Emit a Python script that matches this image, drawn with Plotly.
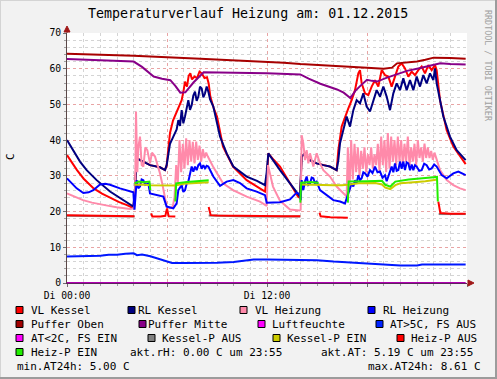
import plotly.graph_objects as go

# ---------------- data (hours since 00:00, degrees C) ----------------
VL_KESSEL = [(0.0, 35.8), (0.3, 33.5), (0.6, 31.6), (1.0, 29.2), (1.6, 26.5), (2.1, 25.0), (2.6, 23.8), (3.1, 22.7), (3.6, 21.8), (3.98, 21.0),
    (4.08, 26.0), (4.18, 34.9), (4.58, 34.0), (4.98, 33.0), (5.58, 32.4), (5.88, 31.6), (5.98, 33.0), (6.08, 37.5), (6.18, 42.0), (6.36, 45.5),
    (6.6, 48.0), (6.88, 51.2), (7.0, 54.0), (7.08, 56.4), (7.2, 55.0), (7.3, 58.0), (7.4, 58.7), (7.5, 57.0), (7.65, 57.8), (7.8, 57.4),
    (7.95, 59.2), (8.1, 58.6), (8.25, 57.4), (8.4, 57.6), (8.5, 55.9), (8.6, 52.2), (8.8, 49.0), (9.0, 46.6), (9.36, 38.2), (9.96, 32.6),
    (10.78, 28.8), (11.4, 27.0), (11.88, 25.6), (12.0, 30.0), (12.08, 36.3), (12.4, 34.5), (12.78, 32.6), (13.38, 27.9), (13.86, 24.2), (13.98, 23.8),
    (14.08, 35.4), (14.28, 36.3), (14.58, 34.4), (14.98, 33.5), (15.38, 33.0), (15.78, 32.6), (16.18, 31.6), (16.28, 37.2), (16.48, 43.8), (16.68, 46.6),
    (16.88, 48.9), (17.08, 51.2), (17.28, 54.0), (17.48, 58.7), (17.58, 59.6), (17.68, 55.9), (17.88, 53.1), (18.08, 52.6), (18.28, 55.0), (18.48, 56.8),
    (18.68, 55.0), (18.88, 59.6), (19.08, 58.2), (19.28, 57.8), (19.48, 55.0), (19.68, 57.8), (19.88, 60.6), (20.08, 61.5), (20.28, 60.1), (20.48, 57.8),
    (20.68, 59.2), (20.88, 58.2), (21.08, 59.6), (21.28, 60.6), (21.48, 58.7), (21.68, 61.0), (21.88, 59.6), (22.08, 61.0), (22.18, 59.6), (22.38, 51.2),
    (22.78, 42.8), (23.18, 38.2), (23.58, 35.4), (23.92, 33.3)]

RL_KESSEL = [(0.0, 40.0), (0.38, 37.2), (0.78, 34.0), (1.18, 31.6), (1.78, 28.8), (2.58, 25.6), (3.38, 23.2), (3.98, 21.4),
    (4.08, 26.0), (4.18, 34.9), (4.58, 34.0), (4.98, 33.0), (5.58, 32.4), (5.88, 31.6), (5.98, 33.0), (6.08, 36.0), (6.18, 39.0), (6.38, 41.0),
    (6.58, 43.0), (6.68, 45.6), (6.78, 44.0), (6.88, 48.4), (6.98, 44.7), (7.08, 46.6), (7.18, 49.0), (7.28, 51.2), (7.38, 48.5), (7.48, 49.8),
    (7.58, 52.5), (7.68, 53.6), (7.78, 51.0), (7.88, 52.2), (7.98, 55.0), (8.08, 54.5), (8.18, 52.0), (8.28, 53.1), (8.38, 55.0), (8.48, 53.6),
    (8.58, 51.5), (8.78, 49.4), (9.18, 41.0), (9.58, 36.3), (9.98, 32.6), (10.78, 29.8), (11.4, 28.6), (11.88, 27.4), (11.98, 31.0), (12.08, 36.3),
    (12.78, 31.6), (13.38, 27.9), (13.98, 24.2),
    (14.08, 35.4), (14.28, 36.3), (14.58, 34.4), (14.98, 33.5), (15.38, 33.0), (15.78, 32.6), (16.18, 31.6), (16.28, 34.4), (16.38, 39.1), (16.58, 42.8),
    (16.78, 46.6), (16.98, 43.8), (17.18, 48.4), (17.38, 51.2), (17.58, 50.3), (17.78, 53.1), (17.98, 49.4), (18.18, 48.0), (18.38, 51.2), (18.58, 54.0),
    (18.78, 52.2), (18.98, 55.0), (19.18, 52.2), (19.38, 48.4), (19.58, 53.1), (19.78, 55.9), (19.98, 54.0), (20.18, 57.3), (20.38, 54.0), (20.58, 56.8),
    (20.78, 54.0), (20.98, 57.8), (21.18, 55.0), (21.38, 58.2), (21.58, 55.9), (21.78, 58.7), (21.98, 56.8), (22.08, 60.1), (22.18, 55.9), (22.58, 46.6),
    (22.98, 41.0), (23.38, 37.2), (23.92, 34.4)]

VL_HEIZUNG = [(0.0, 25.1), (0.5, 24.0), (0.96, 23.2), (1.5, 22.5), (1.98, 22.0), (2.5, 21.6), (2.98, 21.2), (3.4, 21.0), (3.78, 20.7), (3.98, 20.9),
    (4.08, 22.0), (4.14, 48.0), (4.22, 31.0), (4.28, 38.0), (4.38, 41.0), (4.48, 33.0), (4.58, 32.6), (4.7, 38.0), (4.82, 37.2), (4.98, 33.5),
    (5.1, 36.5), (5.28, 35.4), (5.45, 33.0), (5.58, 30.7), (5.75, 27.0), (5.88, 24.2), (5.98, 21.4), (6.18, 21.0), (6.35, 21.5),
    (6.45, 24.0), (6.55, 33.0), (6.65, 28.0), (6.75, 40.0), (6.85, 31.0), (6.95, 39.0), (7.05, 32.0), (7.15, 40.5), (7.25, 33.0), (7.35, 40.0),
    (7.45, 34.0), (7.55, 39.5), (7.65, 33.5), (7.75, 39.6), (7.85, 34.5), (7.95, 38.5), (8.05, 34.0), (8.15, 37.5), (8.25, 35.0), (8.35, 36.5), (8.45, 35.4),
    (8.76, 32.6), (9.36, 27.9), (9.96, 26.0), (10.78, 24.2), (11.58, 22.8), (11.98, 21.6), (12.06, 33.0), (12.36, 27.0), (12.78, 23.0), (13.38, 20.6), (13.95, 20.3),
    (14.02, 20.5), (14.08, 41.4), (14.18, 39.1), (14.28, 34.4), (14.38, 37.2), (14.48, 33.5), (14.58, 36.3), (14.78, 32.6), (14.98, 36.3), (15.18, 33.5),
    (15.38, 31.6), (15.78, 29.8), (16.18, 27.0), (16.58, 25.1), (16.78, 24.2),
    (16.85, 38), (16.95, 26), (17.05, 40), (17.15, 29), (17.25, 39), (17.35, 31), (17.45, 38), (17.55, 30), (17.65, 37), (17.75, 32),
    (17.85, 38), (17.95, 31), (18.05, 36), (18.15, 33), (18.25, 38), (18.35, 32), (18.45, 36), (18.55, 33), (18.65, 39), (18.75, 31),
    (18.85, 41), (18.95, 33), (19.05, 40), (19.15, 31), (19.25, 42), (19.35, 32), (19.45, 41), (19.55, 34), (19.65, 40), (19.75, 33),
    (19.85, 41), (19.95, 34), (20.05, 40), (20.15, 33), (20.25, 39), (20.35, 34), (20.45, 41), (20.55, 33), (20.65, 38), (20.75, 34),
    (20.85, 39), (20.95, 33), (21.05, 40), (21.15, 35), (21.25, 38), (21.35, 34), (21.45, 39), (21.55, 35), (21.65, 38), (21.75, 35),
    (21.85, 37), (21.95, 34.5), (22.05, 36.5), (22.15, 35),
    (22.38, 31.6), (22.78, 28.8), (23.18, 27.4), (23.58, 26.5), (23.92, 26.0)]

RL_HEIZUNG = [(0.0, 29.3), (0.3, 27.8), (0.58, 26.5), (0.98, 25.2), (1.3, 25.4), (1.58, 26.0), (1.98, 27.6), (2.3, 27.8), (2.58, 27.5), (3.18, 26.5),
    (3.78, 25.6), (3.98, 25.4), (4.05, 20.5), (4.12, 26.0), (4.18, 28.8), (4.28, 26.5), (4.38, 27.0), (4.48, 29.0), (4.58, 28.8), (4.7, 27.5),
    (4.88, 27.9), (4.98, 25.1), (5.38, 24.6), (5.78, 24.2), (5.98, 21.4), (6.38, 20.9), (6.58, 22.3), (6.68, 26.0), (6.88, 27.4), (6.98, 25.5),
    (7.08, 26.0), (7.18, 27.8), (7.28, 28.4), (7.38, 30.7), (7.48, 32.6), (7.58, 31.2), (7.68, 32.6), (7.78, 31.6), (7.88, 33.0), (7.98, 33.5),
    (8.08, 32.0), (8.18, 33.0), (8.28, 32.1), (8.38, 32.8), (8.48, 32.6), (8.78, 29.8), (9.18, 27.2), (9.58, 28.4), (9.98, 28.8), (10.38, 28.0),
    (10.78, 26.5), (11.38, 25.6), (11.88, 24.6), (11.98, 22.5), (12.78, 22.6), (13.38, 23.4), (13.78, 25.3), (13.98, 24.8),
    (14.02, 23.2), (14.08, 28.8), (14.18, 26.0), (14.28, 28.5), (14.38, 29.8), (14.48, 27.5), (14.58, 27.9), (14.68, 29.5), (14.78, 29.3), (14.88, 28.0),
    (14.98, 28.4), (15.18, 26.0), (15.58, 24.6), (15.98, 23.2), (16.38, 22.8), (16.68, 22.3), (16.88, 25.1), (17.08, 27.9), (17.18, 27.0), (17.28, 28.8),
    (17.38, 28.0), (17.48, 30.2), (17.58, 28.8), (17.68, 29.3), (17.78, 31.0), (17.88, 30.7), (18.03, 29.8), (18.18, 31.6), (18.33, 30.8), (18.48, 32.6),
    (18.63, 31.0), (18.78, 31.2), (18.93, 29.5), (19.08, 30.2), (19.18, 28.5), (19.28, 29.8), (19.38, 31.5), (19.48, 32.6), (19.58, 31.0), (19.68, 33.5),
    (19.78, 31.4), (19.88, 31.6), (19.98, 34.0), (20.08, 32.0), (20.18, 34.0), (20.28, 31.6), (20.38, 33.8), (20.48, 33.5), (20.58, 31.6), (20.68, 33.2),
    (20.78, 31.6), (20.88, 33.0), (20.98, 32.6), (21.13, 31.4), (21.28, 31.6), (21.43, 33.4), (21.58, 33.0), (21.73, 31.8), (21.88, 32.1), (22.03, 33.2),
    (22.18, 32.6), (22.48, 30.2), (22.78, 29.3), (23.18, 30.7), (23.48, 31.2), (23.92, 30.2)]

PUFFER_OBEN = [(0, 64.2), (1, 64.1), (2, 63.9), (3, 63.8), (4, 63.6), (5, 63.4), (6, 63.3), (7, 63.0), (8, 62.8), (9, 62.6),
    (10, 62.4), (11, 62.2), (12, 62.0), (13, 61.7), (14, 61.3), (15, 61.1), (16, 60.9), (17, 60.6), (18, 60.3), (19, 60.0),
    (19.5, 60.3), (19.8, 61.5), (20.5, 61.7), (21.0, 62.0), (21.5, 62.5), (22.0, 63.1), (23.0, 63.0), (23.92, 62.8)]

PUFFER_MITTE = [(0, 62.7), (1, 62.5), (2, 62.4), (3, 62.2), (4, 62.0), (4.5, 60.5), (5.2, 57.8), (5.7, 57.2), (6.2, 56.8), (6.5, 55.2),
    (6.8, 53.3), (7.1, 53.4), (7.6, 56.2), (8.2, 59.0), (9.0, 59.0), (9.8, 58.9), (11, 58.8), (12, 58.7), (13, 58.6), (14, 58.4),
    (14.5, 57.2), (15.2, 55.8), (16.2, 54.2), (16.6, 53.3), (17.0, 51.8), (17.3, 53.8), (17.6, 55.2), (18.0, 56.9), (18.3, 56.6), (18.6, 56.4),
    (19.2, 57.5), (19.8, 58.4), (20.4, 59.4), (21.0, 60.0), (21.7, 60.7), (22.4, 61.5), (23.0, 61.3), (23.92, 61.2)]

LUFTFEUCHTE = [(0.0, 0.0), (23.92, 0.0)]

AT_WARM = [(0, 7.4), (1, 7.4), (2, 7.6), (2.5, 7.9), (3, 7.9), (3.5, 8.2), (4.0, 8.3), (4.2, 7.8), (4.5, 8.0), (5.0, 7.5),
    (5.5, 6.8), (6.0, 6.0), (6.3, 5.6), (7, 5.6), (8, 5.6), (9, 5.7), (10, 5.9), (10.6, 6.2), (11.2, 6.6), (12, 6.6),
    (13, 6.6), (14, 6.6), (15, 6.4), (16, 6.0), (17, 5.7), (18, 5.4), (19, 5.2), (20, 4.9), (21, 4.9), (21.3, 5.2),
    (22, 5.2), (23, 5.1), (23.92, 5.2)]

KESSEL_P_AUS = [(0, 18.8), (2, 18.7), (4.05, 18.6), (4.06, None), (8.5, 18.9), (11, 18.6), (14.0, 18.6), (14.01, None),
    (22.3, 19.3), (23.92, 19.3)]

KESSEL_P_EIN = [(4.05, 27.5), (4.5, 27.6), (5.0, 27.4), (5.5, 27.3), (6.0, 27.2), (6.5, 27.3), (7.0, 27.8), (7.5, 28.0), (8.0, 28.1), (8.5, 28.2),
    (8.51, None), (14.0, 27.6), (14.5, 27.5), (15.0, 27.5), (15.5, 27.4), (16.0, 27.4), (16.5, 27.4), (16.85, 27.5), (17.5, 27.9), (18.5, 28.0),
    (18.9, 27.6), (19.1, 26.7), (19.4, 26.3), (19.7, 27.4), (20.0, 27.9), (20.5, 28.2), (21.0, 28.3), (21.5, 28.5), (22.0, 28.8), (22.25, 29.0)]

HEIZ_P_AUS = [(0, 19.0), (1, 18.9), (2, 18.8), (3, 18.7), (4.05, 18.7), (4.06, None),
    (5.05, 19.5), (5.12, 18.6), (5.6, 18.6), (5.9, 18.8), (6.0, 20.9), (6.1, 18.7), (6.5, 18.6), (6.51, None),
    (8.5, 21.3), (8.62, 19.0), (9.0, 18.9), (10, 18.8), (11, 18.7), (12, 18.6), (13, 18.7), (14.0, 18.7), (14.01, None),
    (15.15, 19.7), (15.22, 18.7), (15.8, 18.4), (16.4, 18.3), (16.85, 18.3), (16.86, None),
    (22.28, 22.8), (22.4, 19.6), (23.0, 19.4), (23.92, 19.4)]

HEIZ_P_EIN = [(4.05, 27.9), (4.3, 28.4), (4.6, 28.2), (4.95, 28.4), (5.0, 26.0), (5.01, None),
    (6.5, 22.8), (6.55, 27.9), (7.2, 28.3), (7.8, 28.5), (8.5, 28.8), (8.51, None),
    (14.0, 22.5), (14.05, 28.1), (14.6, 28.3), (15.1, 28.1), (15.11, None),
    (16.85, 22.5), (16.9, 28.4), (18.0, 28.5), (18.9, 28.6), (19.1, 27.5), (19.4, 27.0), (19.7, 28.4), (20.5, 29.0), (21.5, 29.4),
    (22.2, 29.7), (22.25, 22.8)]

# draw order follows the legend order (later series on top)
SERIES = [
    ("VL Kessel", VL_KESSEL, "#FF0000", 2),
    ("RL Kessel", RL_KESSEL, "#000080", 2),
    ("VL Heizung", VL_HEIZUNG, "#FF8AAA", 2),
    ("RL Heizung", RL_HEIZUNG, "#0000FF", 2),
    ("Puffer Oben", PUFFER_OBEN, "#A80000", 2),
    ("Puffer Mitte", PUFFER_MITTE, "#880088", 2),
    ("Luftfeuchte", LUFTFEUCHTE, "#B000B0", 2),
    ("AT>5C, FS AUS", AT_WARM, "#0018FF", 2),
    ("Kessel-P AUS", KESSEL_P_AUS, "#808080", 2),
    ("Kessel-P EIN", KESSEL_P_EIN, "#CCCC00", 2),
    ("Heiz-P AUS", HEIZ_P_AUS, "#FF0000", 2),
    ("Heiz-P EIN", HEIZ_P_EIN, "#22EE00", 2),
]

LEGEND_ITEMS = [  # label, colour, swatch-x px, text-x px, row-y px
    ("VL Kessel", "#FF0000", 16, 30, 310), ("RL Kessel", "#000080", 128, 137, 310),
    ("VL Heizung", "#FF8AAA", 240, 254, 310), ("RL Heizung", "#0000FF", 368, 382, 310),
    ("Puffer Oben", "#A00000", 16, 30, 324), ("Puffer Mitte", "#880088", 139, 147, 324),
    ("Luftfeuchte", "#FF00FF", 258, 271, 324), ("AT>5C, FS AUS", "#0022FF", 376, 389, 324),
    ("AT<2C, FS EIN", "#FF00FF", 16, 30, 338), ("Kessel-P AUS", "#808080", 148, 161, 338),
    ("Kessel-P EIN", "#CCCC00", 273, 286, 338), ("Heiz-P AUS", "#FF0000", 397, 410, 338),
    ("Heiz-P EIN", "#22EE00", 16, 30, 352),
]
LEGEND_TEXTS = [  # text, x px, y px, anchor
    ("akt.rH: 0.00 C um 23:55", 129, 352, "left"),
    ("akt.AT: 5.19 C um 23:55", 320, 352, "left"),
    ("min.AT24h: 5.00 C", 16, 366, "left"),
    ("max.AT24h: 8.61 C", 482, 366, "right"),
]

TITLE = "Temperaturverlauf Heizung am: 01.12.2015"
X_TICKVALS = [0, 6, 12, 18, 24]
X_TICKTEXT = ["Di 00:00", "", "Di 12:00", "", ""]

# ---------------- geometry helpers (pixel -> paper) ----------------
W, H = 497, 379
L, R, T, B = 67, 30, 33, 96
PW, PH = W - L - R, H - T - B


def px(x):
    return (x - L) / PW


def py(y):
    return (H - B - y) / PH


MONO = "DejaVu Sans Mono"

fig = go.Figure()
for name, pts, col, lw in SERIES:
    xs = [p[0] for p in pts]
    ys = [p[1] for p in pts]
    fig.add_trace(go.Scatter(x=xs, y=ys, mode="lines", name=name, showlegend=False,
                             connectgaps=False, hoverinfo="skip",
                             line=dict(color=col, width=lw)))

shapes = []
annotations = []

# legend swatches and labels
for label, col, sx, tx, ry in LEGEND_ITEMS:
    shapes.append(dict(type="rect", xref="paper", yref="paper",
                       x0=px(sx), x1=px(sx + 7), y0=py(ry + 3.5), y1=py(ry - 3.5),
                       fillcolor=col, line=dict(color="#000000", width=1)))
    annotations.append(dict(text=label, xref="paper", yref="paper", x=px(tx), y=py(ry),
                            xanchor="left", yanchor="middle", showarrow=False, borderpad=0,
                            font=dict(family=MONO, size=11, color="#000000")))
for txt, tx, ry, anc in LEGEND_TEXTS:
    annotations.append(dict(text=txt, xref="paper", yref="paper", x=px(tx), y=py(ry),
                            xanchor=anc, yanchor="middle", showarrow=False, borderpad=0,
                            font=dict(family=MONO, size=11, color="#000000")))

# title, y label, watermark
annotations.append(dict(text=TITLE, xref="paper", yref="paper", x=px(248), y=py(14),
                        xanchor="center", yanchor="middle", showarrow=False,
                        font=dict(family=MONO, size=13.3, color="#000000")))
annotations.append(dict(text="C", xref="paper", yref="paper", x=px(10), y=py(157),
                        xanchor="center", yanchor="middle", showarrow=False, textangle=-90,
                        font=dict(family=MONO, size=11, color="#000000")))
annotations.append(dict(text="RRDTOOL / TOBI OETIKER", xref="paper", yref="paper", x=px(488), y=py(66),
                        xanchor="center", yanchor="middle", showarrow=False, textangle=90,
                        font=dict(family=MONO, size=8.4, color="#A0A0A0")))

# axis arrows
ARROW = "#A01818"
shapes.append(dict(type="line", xref="paper", yref="paper", x0=0, x1=0, y0=1.0, y1=py(28),
                   line=dict(color="#5a4848", width=1)))
shapes.append(dict(type="path", xref="paper", yref="paper",
                   path=f"M {px(67)},{py(26)} L {px(64)},{py(32)} L {px(70)},{py(32)} Z",
                   fillcolor=ARROW, line=dict(color=ARROW, width=1)))
shapes.append(dict(type="path", xref="paper", yref="paper",
                   path=f"M {px(474)},{py(283)} L {px(468)},{py(280)} L {px(468)},{py(286)} Z",
                   fillcolor=ARROW, line=dict(color=ARROW, width=1)))

# 3D frame around the image
shapes.append(dict(type="line", xref="paper", yref="paper", x0=px(0), x1=px(W), y0=py(0.5), y1=py(0.5),
                   line=dict(color="#d4d4d4", width=1)))
shapes.append(dict(type="line", xref="paper", yref="paper", x0=px(0.5), x1=px(0.5), y0=py(0), y1=py(H),
                   line=dict(color="#d4d4d4", width=1)))
shapes.append(dict(type="line", xref="paper", yref="paper", x0=px(0), x1=px(W), y0=py(H - 1), y1=py(H - 1),
                   line=dict(color="#9c9c9c", width=2)))
shapes.append(dict(type="line", xref="paper", yref="paper", x0=px(W - 1), x1=px(W - 1), y0=py(0), y1=py(H),
                   line=dict(color="#9c9c9c", width=2)))

axis_font = dict(family=MONO, size=9.7, color="#000000")
fig.update_layout(
    width=W, height=H, autosize=False,
    margin=dict(l=L, r=R, t=T, b=B, pad=0),
    paper_bgcolor="#F2F2F2", plot_bgcolor="#FFFFFF",
    showlegend=False, shapes=shapes, annotations=annotations,
    xaxis=dict(range=[0, 24], tickmode="array", tickvals=X_TICKVALS, ticktext=X_TICKTEXT,
               showgrid=True, gridcolor="#E8A4A4", griddash="dot", gridwidth=1,
               ticks="outside", ticklen=3, tickcolor="#707070", tickfont=axis_font,
               showline=True, linecolor="#602060", linewidth=1, zeroline=False, fixedrange=True,
               minor=dict(tickmode="linear", tick0=0, dtick=1, showgrid=True, gridcolor="#D4D4D4",
                          griddash="dot", gridwidth=1, ticks="outside", ticklen=2, tickcolor="#A0A0A0")),
    yaxis=dict(range=[0, 70], tickmode="linear", tick0=0, dtick=10,
               showgrid=True, gridcolor="#E8A4A4", griddash="dot", gridwidth=1,
               ticks="outside", ticklen=3, tickcolor="#707070", tickfont=axis_font,
               showline=True, linecolor="#5a4848", linewidth=1, zeroline=False, fixedrange=True,
               minor=dict(tickmode="linear", tick0=0, dtick=2, showgrid=True, gridcolor="#D4D4D4",
                          griddash="dot", gridwidth=1, ticks="outside", ticklen=2, tickcolor="#A0A0A0")),
)

fig.write_html("out.html", config={"displayModeBar": False},
               post_script="document.body.style.margin='0';document.body.style.padding='0';")
